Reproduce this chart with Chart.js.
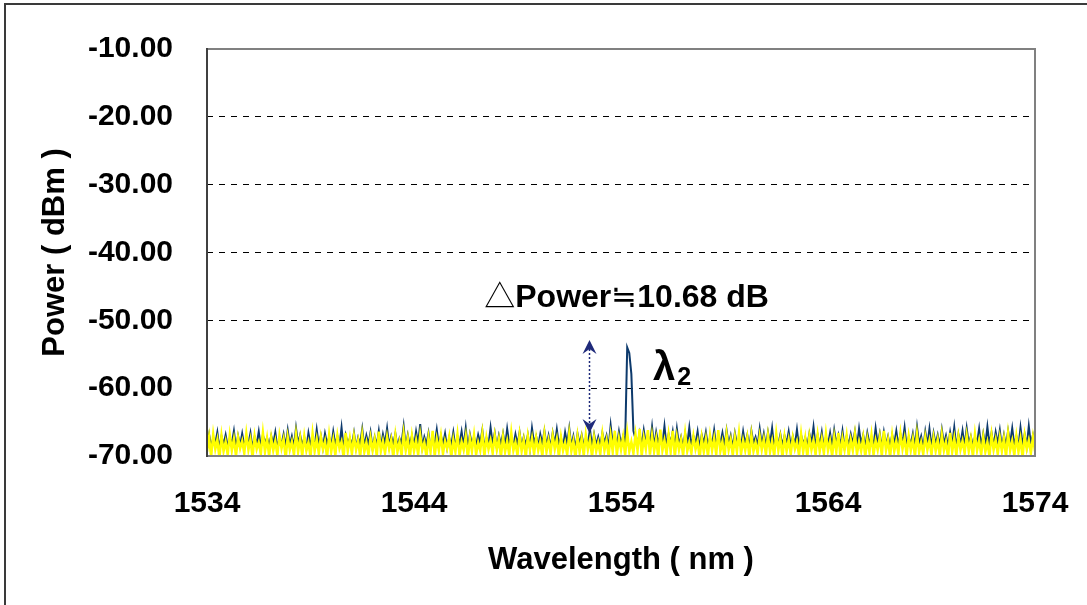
<!DOCTYPE html>
<html lang="en">
  <head>
    <meta charset="utf-8" />
    <title>Power vs wavelength</title>
    <style>
      * {
        margin: 0;
        padding: 0;
      }
      body {
        background: white;
      }
      .chartBox {
        width: 1087px;
        height: 605px;
        position: relative;
      }
    </style>
  </head>
  <body>
    <div class="chartBox">
      <canvas id="myChart"></canvas>
    </div>

    <script src="https://cdn.jsdelivr.net/npm/chart.js"></script>

    <script>
      // sampling grid of the OSA trace (nm)
      const startNm = 1534;
      const stepNm = 0.1;

      const xTicks = [1534, 1544, 1554, 1564, 1574];
      const yTicks = [-70, -60, -50, -40, -30, -20, -10];

      // yellow trace (front)
      const yellowTrace = [
        -69.4, -67.2, -70.1, -66.8, -69.0, -67.6, -70.3, -67.0, -69.3, -67.9,
        -69.8, -66.9, -69.2, -67.5, -70.0, -67.3, -68.9, -67.8, -69.6, -66.7,
        -69.1, -67.6, -70.2, -67.1, -69.0, -68.0, -69.7, -66.6, -69.4, -67.4,
        -70.0, -67.3, -69.2, -67.8, -69.9, -67.0, -68.9, -67.5, -70.3, -67.2,
        -69.1, -67.9, -69.8, -66.8, -69.4, -67.4, -70.0, -67.1, -69.2, -68.0,
        -70.1, -66.7, -69.3, -67.5, -69.6, -67.2, -69.0, -67.8, -70.2, -66.9,
        -69.4, -67.6, -69.9, -67.0, -68.9, -67.9, -70.2, -66.6, -69.3, -67.4,
        -69.7, -67.1, -69.1, -67.7, -70.1, -66.9, -69.4, -68.0, -69.8, -67.3,
        -69.2, -67.5, -70.0, -66.4, -69.3, -67.8, -69.6, -67.2, -69.0, -67.6,
        -70.2, -67.0, -69.4, -67.9, -69.9, -66.7, -69.2, -67.4, -70.3, -67.1,
        -69.3, -67.7, -69.8, -66.9, -69.1, -68.0, -70.1, -67.3, -69.4, -66.3,
        -70.0, -67.5, -69.2, -67.0, -69.7, -67.8, -68.9, -67.2, -70.2, -67.6,
        -69.4, -66.8, -69.9, -67.9, -69.1, -67.1, -70.3, -67.4, -69.3, -66.9,
        -69.8, -68.0, -69.2, -66.7, -70.0, -67.3, -69.0, -67.7, -69.6, -67.0,
        -69.1, -67.5, -70.1, -67.2, -69.4, -67.8, -69.8, -66.6, -69.2, -68.0,
        -69.9, -66.9, -69.3, -67.6, -70.2, -67.1, -69.1, -67.4, -69.7, -67.3,
        -69.2, -67.9, -70.0, -66.8, -69.4, -67.7, -69.6, -67.0, -69.0, -67.5,
        -70.1, -67.2, -69.2, -68.0, -69.8, -66.7, -69.3, -67.8, -70.3, -67.1,
        -69.4, -67.4, -69.9, -66.9, -69.1, -67.6, -70.1, -67.3, -69.3, -68.0,
        -69.7, -66.8, -69.2, -67.7, -70.0, -67.0, -69.4, -66.3, -69.8, -67.4,
        -69.1, -67.2, -69.9, -66.6, -69.3, -67.9, -69.6, -66.8, -69.2, -66.0,
        -70.0, -67.3, -69.0, -66.2, -69.8, -67.0, -69.3, -67.5, -70.2, -66.1,
        -69.2, -67.7, -69.7, -66.9, -69.4, -66.3, -70.1, -67.2, -69.1, -67.6,
        -69.9, -66.7, -69.3, -68.0, -69.6, -67.1, -69.0, -67.8, -70.3, -67.3,
        -69.4, -67.5, -70.0, -67.0, -69.2, -67.4, -69.8, -66.2, -69.3, -67.9,
        -70.2, -66.8, -69.1, -67.6, -69.9, -67.2, -69.4, -66.6, -69.7, -67.7,
        -69.2, -67.3, -70.1, -66.9, -69.3, -68.0, -69.6, -67.1, -69.1, -67.5,
        -69.8, -67.0, -69.4, -67.8, -70.0, -66.7, -69.2, -67.4, -70.2, -67.2,
        -69.3, -67.6, -69.7, -67.3, -69.0, -67.9, -69.9, -66.8, -69.4, -67.4,
        -70.1, -67.1, -69.1, -67.7, -69.8, -66.9, -69.3, -67.5, -69.6, -66.7,
        -69.2, -67.8, -70.0, -67.2, -69.4, -66.6, -70.2, -67.4, -69.1, -67.0,
        -69.9, -67.6, -69.2, -66.8, -69.7, -67.9, -69.3, -67.3, -70.1, -67.5,
        -69.4, -66.9, -69.8, -67.7, -69.1, -67.2, -70.0, -66.3, -69.2, -67.6,
        -70.2, -67.0, -69.3, -67.8, -69.6, -66.7, -69.0, -67.4, -69.9, -67.1,
        -69.2, -67.5, -70.1, -66.8, -69.4, -68.0, -69.7, -67.2, -69.1, -67.7,
        -69.8, -67.3, -69.3, -67.6, -70.0, -66.9, -69.2, -67.9, -70.2, -66.6,
        -69.4, -67.4, -69.9, -67.1, -69.1, -67.8, -69.6, -67.0, -69.3, -67.5,
        -70.1, -66.8, -69.2, -67.7, -69.8, -67.2, -69.4, -68.0, -70.0, -66.9,
        -69.1, -67.6, -69.7, -67.3, -69.3, -67.4, -70.1, -66.7, -69.2, -67.8,
        -69.9, -67.1, -69.4, -67.5, -70.2, -67.0, -69.0, -67.7, -69.6, -67.2,
        -69.3,
      ];

      // dark blue trace (behind), with the λ2 line near 1554.3 nm
      const blueTrace = [
        -68.4, -66.8, -68.7, -67.3, -68.2, -66.5, -68.9, -67.1, -68.3, -66.9,
        -68.6, -67.4, -68.1, -66.3, -68.8, -67.0, -68.4, -66.7, -68.5, -67.5,
        -68.2, -66.6, -68.9, -67.2, -68.3, -66.4, -68.7, -66.9, -68.1, -67.3,
        -68.5, -67.0, -68.2, -66.5, -68.8, -67.4, -68.3, -66.8, -68.6, -66.2,
        -68.4, -67.1, -68.7, -65.9, -68.2, -66.9, -68.5, -67.3, -68.9, -66.6,
        -68.3, -67.5, -68.6, -66.1, -68.4, -67.0, -68.8, -66.7, -68.2, -67.2,
        -68.7, -66.4, -68.3, -67.1, -68.5, -65.8, -68.9, -66.9, -68.1, -67.4,
        -68.4, -66.6, -68.8, -67.3, -68.2, -66.0, -68.6, -67.0, -68.3, -66.5,
        -68.9, -67.2, -68.4, -66.3, -68.7, -66.8, -68.2, -65.9, -68.5, -67.1,
        -68.3, -66.7, -68.6, -67.4, -68.1, -65.6, -68.8, -66.9, -68.4, -67.0,
        -68.6, -66.4, -68.2, -65.3, -68.7, -67.2, -68.3, -66.6, -68.9, -67.5,
        -68.2, -66.1, -68.5, -67.0, -68.3, -66.7, -68.8, -67.3, -68.4, -66.5,
        -68.7, -67.1, -68.2, -66.4, -68.6, -65.9, -68.9, -66.8, -68.3, -67.2,
        -68.5, -66.9, -68.1, -66.2, -68.7, -67.4, -68.4, -65.8, -68.2, -66.6,
        -68.8, -67.0, -68.3, -66.7, -68.6, -66.0, -68.2, -67.3, -68.5, -66.8,
        -68.3, -66.5, -68.7, -67.2, -68.4, -66.9, -68.9, -65.9, -68.1, -67.1,
        -68.6, -66.8, -68.2, -66.3, -68.5, -67.0, -68.8, -66.6, -68.3, -66.1,
        -68.4, -67.3, -68.7, -66.5, -68.2, -65.9, -68.6, -67.1, -68.9, -66.7,
        -68.2, -66.9, -68.5, -67.4, -68.3, -66.0, -68.7, -66.8, -68.4, -67.2,
        -68.6, -66.6, -68.1, -67.0, -68.8, -65.5, -68.3, -66.9, -68.5, -66.4,
        -68.3, -67.1, -67.9, -54.0, -54.8, -57.9, -66.3, -67.5, -68.2, -66.6,
        -68.5, -66.2, -68.2, -66.9, -68.4, -65.7, -68.7, -66.5, -68.1, -67.0,
        -68.3, -65.6, -68.6, -66.8, -68.2, -66.4, -68.9, -66.0, -68.4, -67.2,
        -68.7, -66.7, -68.3, -65.8, -68.5, -67.1, -68.2, -66.4, -68.8, -66.9,
        -68.2, -66.5, -68.6, -67.3, -68.4, -66.2, -68.7, -67.0, -68.1, -66.6,
        -68.5, -66.2, -68.3, -67.0, -68.8, -66.6, -68.2, -67.4, -68.6, -66.4,
        -68.3, -66.9, -68.7, -66.3, -68.1, -67.2, -68.5, -66.0, -68.4, -66.7,
        -68.6, -66.5, -68.2, -65.9, -68.8, -67.2, -68.3, -66.8, -68.5, -67.0,
        -68.2, -66.4, -68.6, -67.1, -68.4, -66.1, -68.7, -66.9, -68.3, -67.3,
        -68.5, -66.7, -68.1, -65.7, -68.6, -66.9, -68.4, -66.5, -68.9, -67.2,
        -68.3, -66.6, -68.7, -66.2, -68.2, -66.9, -68.5, -66.3, -68.8, -67.1,
        -68.4, -66.8, -68.2, -66.4, -68.6, -66.0, -68.3, -66.9, -68.7, -66.6,
        -68.1, -67.2, -68.5, -65.9, -68.3, -66.7, -68.8, -66.5, -68.4, -67.1,
        -68.6, -66.9, -68.2, -66.3, -68.5, -66.8, -68.1, -65.8, -68.7, -67.2,
        -68.3, -66.7, -68.6, -65.7, -68.2, -67.1, -68.9, -66.4, -68.4, -66.0,
        -68.7, -66.6, -68.3, -66.9, -68.5, -66.1, -68.2, -67.0, -68.6, -66.5,
        -68.4, -65.8, -68.8, -66.8, -68.3, -66.3, -68.6, -65.9, -68.2, -67.1,
        -68.5, -67.2, -68.1, -66.0, -68.7, -66.7, -68.4, -65.7, -68.3, -66.6,
        -68.6, -66.5, -68.2, -66.2, -68.8, -66.9, -68.5, -66.3, -68.1, -65.9,
        -68.4, -67.1, -68.7, -65.8, -68.3, -66.8, -68.6, -65.6, -68.2, -66.9,
        -68.5,
      ];

      const toPoints = (trace) =>
        trace.map((v, i) => ({ x: startNm + i * stepNm, y: v }));

      const fontFamily = '"Liberation Sans", Arial, sans-serif';
      const symbolFamily = '"Noto Sans CJK JP", "DejaVu Sans", sans-serif';

      // frame, arrow and text annotations
      const annotations = {
        id: "annotations",
        afterDatasetsDraw(chart) {
          const {
            ctx,
            chartArea: { left, top, right, bottom },
            scales: { x, y },
          } = chart;
          ctx.save();

          // plot area border
          ctx.lineWidth = 2;
          ctx.strokeStyle = "#808080";
          ctx.beginPath();
          ctx.moveTo(left, top);
          ctx.lineTo(right, top);
          ctx.lineTo(right, bottom);
          ctx.lineTo(left, bottom);
          ctx.stroke();
          ctx.strokeStyle = "#404040";
          ctx.beginPath();
          ctx.moveTo(left, top - 1);
          ctx.lineTo(left, bottom + 1);
          ctx.stroke();

          // outer chart border (top and left only)
          ctx.strokeStyle = "#3a3a3a";
          ctx.beginPath();
          ctx.moveTo(5, chart.height);
          ctx.lineTo(5, 4);
          ctx.lineTo(chart.width, 4);
          ctx.stroke();

          // dotted double arrow
          const ax = Math.round(x.getPixelForValue(1552.45)) + 0.5;
          const ay1 = y.getPixelForValue(-52.9);
          const ay2 = y.getPixelForValue(-66.6);
          ctx.strokeStyle = "#1f2a7a";
          ctx.fillStyle = "#1f2a7a";
          ctx.lineWidth = 1.5;
          ctx.setLineDash([2, 2]);
          ctx.beginPath();
          ctx.moveTo(ax, ay1 + 9);
          ctx.lineTo(ax, ay2 - 9);
          ctx.stroke();
          ctx.setLineDash([]);
          const head = (tipY, dir) => {
            ctx.beginPath();
            ctx.moveTo(ax, tipY);
            ctx.lineTo(ax - 7, tipY + dir * 14);
            ctx.lineTo(ax, tipY + dir * 9);
            ctx.lineTo(ax + 7, tipY + dir * 14);
            ctx.closePath();
            ctx.fill();
          };
          head(ay1, 1);
          head(ay2, -1);

          // "△Power≒10.68 dB"
          ctx.fillStyle = "#000";
          ctx.textBaseline = "alphabetic";
          ctx.textAlign = "left";
          const parts = [
            ["△", "31px " + symbolFamily],
            ["Power", "bold 32px " + fontFamily],
            ["≒", "31px " + symbolFamily],
            ["10.68 dB", "bold 32px " + fontFamily],
          ];
          let total = 0;
          parts.forEach(([t, f]) => {
            ctx.font = f;
            total += ctx.measureText(t).width;
          });
          let tx = x.getPixelForValue(1554.27) - total / 2;
          const ty = y.getPixelForValue(-48.0);
          parts.forEach(([t, f]) => {
            ctx.font = f;
            ctx.fillText(t, tx, ty);
            tx += ctx.measureText(t).width;
          });

          // λ2 label
          const lx = x.getPixelForValue(1555.55);
          const ly = y.getPixelForValue(-58.8);
          ctx.font = "bold 40px " + fontFamily;
          ctx.fillText("λ", lx, ly);
          const lw = ctx.measureText("λ").width;
          ctx.font = "bold 25px " + fontFamily;
          ctx.fillText("2", lx + lw + 2, ly + 5);

          ctx.restore();
        },
      };

      const data = {
        datasets: [
          {
            label: "trace 2",
            data: toPoints(yellowTrace),
            borderColor: "#ffff00",
            backgroundColor: "#ffff00",
            borderWidth: 2.5,
            pointRadius: 0,
            tension: 0,
          },
          {
            label: "trace 1",
            data: toPoints(blueTrace),
            borderColor: "#0d3a6c",
            backgroundColor: "#0d3a6c",
            borderWidth: 2,
            pointRadius: 0,
            tension: 0,
          },
        ],
      };

      const config = {
        type: "line",
        data: data,
        options: {
          responsive: true,
          maintainAspectRatio: false,
          animation: false,
          layout: {
            padding: { top: 49, right: 52, left: 0, bottom: 0 },
          },
          plugins: {
            legend: { display: false },
            tooltip: { enabled: false },
          },
          scales: {
            x: {
              type: "linear",
              min: xTicks[0],
              max: xTicks[xTicks.length - 1],
              afterBuildTicks: (scale) => {
                scale.ticks = xTicks.map((v) => ({ value: v }));
              },
              grid: { display: false, drawTicks: false },
              border: { display: false },
              ticks: {
                padding: 0,
                color: "#000",
                font: {
                  family: fontFamily,
                  size: 30,
                  weight: "bold",
                  lineHeight: 3.2,
                },
                maxRotation: 0,
                callback: (v) => String(v),
              },
              title: {
                display: true,
                text: "Wavelength ( nm )",
                color: "#000",
                font: { family: fontFamily, size: 31, weight: "bold" },
                padding: { top: 0, bottom: 26 },
              },
              afterFit: (scale) => {
                scale.height = 149;
              },
            },
            y: {
              min: yTicks[0],
              max: yTicks[yTicks.length - 1],
              afterBuildTicks: (scale) => {
                scale.ticks = yTicks.map((v) => ({ value: v }));
              },
              grid: {
                drawTicks: false,
                color: (c) =>
                  c.tick && (c.tick.value === -70 || c.tick.value === -10)
                    ? "rgba(0,0,0,0)"
                    : "#000",
                lineWidth: 1,
              },
              border: { display: false, dash: [6, 6] },
              ticks: {
                padding: 34,
                color: "#000",
                font: {
                  family: fontFamily,
                  size: 30,
                  weight: "bold",
                  lineHeight: 0.9,
                },
                callback: (v) => v.toFixed(2),
              },
              title: {
                display: true,
                text: "Power ( dBm )",
                color: "#000",
                font: { family: fontFamily, size: 31, weight: "bold" },
                padding: { top: 37, bottom: 0 },
              },
              afterFit: (scale) => {
                scale.width = 207;
              },
            },
          },
        },
        plugins: [annotations],
      };

      const ctx = document.getElementById("myChart");
      const myChart = new Chart(ctx, config);
    </script>
  </body>
</html>
